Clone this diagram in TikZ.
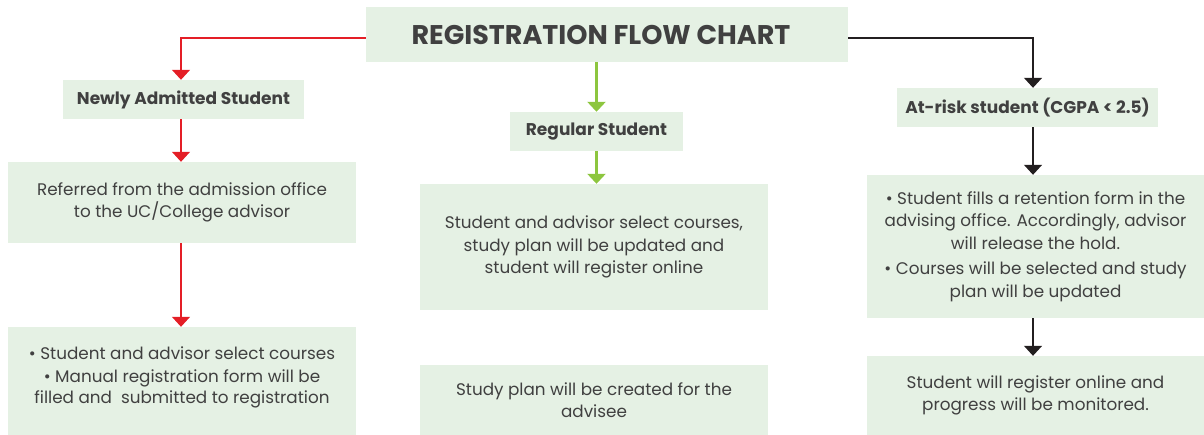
\documentclass[tikz,border=0pt]{standalone}
\usepackage{fontspec}
\setmainfont{Poppins}
\usetikzlibrary{arrows.meta}
\definecolor{boxfill}{HTML}{E5F1E4}
\definecolor{txt}{HTML}{404040}
\definecolor{redc}{HTML}{E41E26}
\definecolor{greenc}{HTML}{8DC63F}
\definecolor{blackc}{HTML}{231F20}
\begin{document}
\begin{tikzpicture}[x=1pt,y=-1pt,
  box/.style={fill=boxfill, draw=none, inner sep=0pt, text=txt, align=center, font=\fontsize{16.8}{22.5}\selectfont},
  head/.style={box, font=\fontsize{17}{20}\selectfont\bfseries},
  tip/.style={-{Triangle[width=18pt,length=10pt]}},
  redarrow/.style={tip, draw=redc, line width=1.4pt},
  greenarrow/.style={tip, draw=greenc, line width=2.6pt},
  blackarrow/.style={tip, draw=blackc, line width=1.4pt}]
\useasboundingbox (0,0) rectangle (1204,435);
% title
\node[box, minimum width=482pt, minimum height=55pt] (title) at (607,34.5) {};
\node[box, fill=none, font=\fontsize{27}{32}\selectfont\bfseries] at (601,34.5) {REGISTRATION FLOW CHART};
% left column
\node[head, minimum width=241pt, minimum height=39pt] (newly) at (183.5,99.5) {Newly Admitted Student};
\node[box, minimum width=348pt, minimum height=81pt] (l2) at (182,202.5) {Referred from the admission office\\to the UC/College advisor};
\node[box, minimum width=348pt, minimum height=108pt] (l3) at (182,381) {};
\node[box, fill=none] at (182,377) {• Student and advisor select courses\\[1pt]• Manual registration form will be\\[-2pt]filled and \ submitted to registration};
% middle column
\node[head, minimum width=173pt, minimum height=39pt] (reg) at (596.5,131.5) {Regular Student};
\node[box, minimum width=348pt, minimum height=126pt] (m2) at (594,247) {Student and advisor select courses,\\study plan will be updated and\\student will register online};
\node[box, minimum width=348pt, minimum height=70pt] (m3) at (594,400) {Study plan will be created for the\\advisee};
% right column
\node[head, minimum width=261pt, minimum height=39pt] (risk) at (1027.5,107.5) {At-risk student (CGPA < 2.5)};
\node[box, minimum width=337pt, minimum height=143pt] (r2) at (1035.5,246.5) {};
\node[box, fill=none] at (1035.5,246.5) {• Student fills a retention form in the\\advising office. Accordingly, advisor\\will release the hold.\\[3pt]• Courses will be selected and study\\plan will be updated};
\node[box, minimum width=337pt, minimum height=79pt] (r3) at (1035.5,395.5) {Student will register online and\\progress will be monitored.};
% connectors
\draw[redarrow] ([yshift=-3.5pt]title.west) -| ([xshift=-2.5pt]newly.north);
\draw[redarrow] ([xshift=-1pt]l2.north |- newly.south) -- ([xshift=-1pt]l2.north);
\draw[redarrow] ([xshift=-1pt]l2.south) -- ([xshift=-1pt]l3.north);
\draw[greenarrow] (title.south -| reg.north) -- (reg.north);
\draw[greenarrow] (reg.south) -- (reg.south |- m2.north);
\draw[blackarrow] ([yshift=-3.5pt]title.east) -| ([xshift=-2.5pt]r2.north |- risk.north);
\draw[blackarrow] ([xshift=-2.5pt]r2.north |- risk.south) -- ([xshift=-2.5pt]r2.north);
\draw[blackarrow] ([xshift=-2.5pt]r2.south) -- ([xshift=-2.5pt]r3.north);
\end{tikzpicture}
\end{document}
